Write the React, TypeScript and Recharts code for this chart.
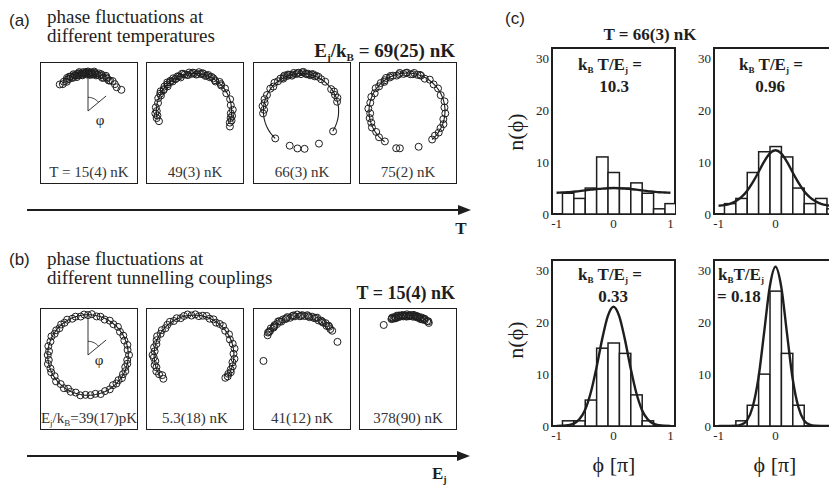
import React from 'react';
import {
  ScatterChart,
  Scatter,
  XAxis,
  YAxis,
  ReferenceLine,
  ComposedChart,
  Bar,
  Line,
  ReferenceArea,
} from 'recharts';

const SERIF = '"Liberation Serif", "Times New Roman", serif';
const SANS = '"Liberation Sans", Arial, sans-serif';
const INK = '#1e1e1e';

// ---- (a) single-shot phases at fixed E_j, as [phase / π, radius] ----
const ringT15: [number, number][] = [
  [-0.26, 1.02], [-0.24, 0.97], [-0.22, 1.0], [-0.2, 0.95], [-0.18, 1.03], [-0.17, 0.98], [-0.15, 1.01],
  [-0.14, 0.96], [-0.12, 1.04], [-0.11, 0.99], [-0.1, 0.94], [-0.09, 1.02], [-0.08, 0.97], [-0.07, 1.05],
  [-0.06, 1.0], [-0.05, 0.95], [-0.04, 1.03], [-0.03, 0.98], [-0.02, 1.01], [-0.01, 0.96], [0, 1.04],
  [0.01, 0.99], [0.02, 0.95], [0.03, 1.02], [0.04, 0.97], [0.05, 1.05], [0.06, 1.0], [0.07, 0.96],
  [0.09, 1.03], [0.1, 0.98], [0.12, 1.01], [0.13, 0.95], [0.15, 1.04], [0.17, 0.99], [0.19, 0.97],
  [0.22, 1.02], [0.25, 1.0], [0.28, 0.98], [0.32, 1.04],
  [-0.19, 0.99], [-0.16, 1.03], [-0.13, 0.97], [-0.115, 1.01], [-0.095, 0.98], [-0.075, 1.02],
  [-0.055, 0.97], [-0.035, 1.0], [-0.015, 1.03], [0.005, 0.97], [0.015, 1.01], [0.035, 0.98],
  [0.055, 1.02], [0.08, 0.99], [0.11, 1.03], [0.14, 0.97], [0.16, 1.01], [0.2, 0.99],
];
const ringT49: [number, number][] = [
  [-0.59, 0.96], [-0.56, 1.0], [-0.54, 0.97], [-0.52, 1.02], [-0.5, 0.98], [-0.47, 1.01], [-0.43, 0.97],
  [-0.39, 1.0], [-0.36, 0.96], [-0.33, 1.02], [-0.3, 0.98], [-0.28, 1.01], [-0.26, 0.95], [-0.24, 1.03],
  [-0.22, 0.99], [-0.2, 0.96], [-0.18, 1.02], [-0.16, 0.98], [-0.14, 1.01], [-0.12, 0.95], [-0.1, 1.03],
  [-0.08, 0.99], [-0.06, 0.97], [-0.04, 1.02], [-0.02, 0.98], [0, 1.0], [0.02, 0.96], [0.04, 1.03],
  [0.06, 0.99], [0.08, 1.01], [0.1, 0.97], [0.12, 1.02], [0.14, 0.98], [0.17, 1.0], [0.2, 0.96],
  [0.23, 1.02], [0.26, 0.98], [0.3, 1.01], [0.34, 0.97], [0.4, 1.0], [0.45, 0.98], [0.49, 1.02],
  [0.52, 0.97], [0.54, 1.01], [0.56, 0.98], [0.58, 1.02], [0.6, 0.99], [0.63, 1.03],
  [-0.35, 1.0], [-0.31, 0.97], [-0.25, 0.99], [-0.21, 1.01], [-0.17, 0.97], [-0.13, 0.99],
  [-0.09, 1.02], [-0.05, 0.96], [-0.01, 1.01], [0.03, 0.98], [0.07, 1.02], [0.11, 0.99],
  [0.15, 1.01], [0.19, 0.98], [0.25, 1.0],
];
const ringT66: [number, number][] = [
  [-0.97, 0.99], [-0.9, 0.96], [-0.76, 0.99], [-0.52, 1.0], [-0.49, 0.97], [-0.46, 1.02], [-0.43, 0.98],
  [-0.4, 1.01], [-0.36, 0.99], [-0.3, 1.0], [-0.27, 0.97], [-0.24, 1.02], [-0.21, 0.99], [-0.18, 1.01],
  [-0.16, 0.97], [-0.14, 1.03], [-0.12, 0.99], [-0.1, 1.0], [-0.08, 0.96], [-0.06, 1.02], [-0.04, 0.98],
  [-0.02, 1.01], [0, 0.97], [0.02, 1.03], [0.04, 0.99], [0.06, 1.0], [0.08, 0.97], [0.1, 1.02],
  [0.12, 0.98], [0.15, 1.01], [0.18, 0.99], [0.22, 1.0], [0.3, 0.98], [0.33, 1.01], [0.36, 0.99],
  [0.39, 1.02], [0.42, 0.98], [0.68, 1.0], [0.84, 0.98], [0.97, 1.0],
  [-0.15, 1.0], [-0.11, 1.02], [-0.07, 0.98], [-0.03, 1.0], [0.01, 1.02], [0.05, 0.98], [0.09, 1.0],
  [0.13, 1.01],
];
const ringT75: [number, number][] = [
  [-0.94, 1.0], [-0.91, 1.02], [-0.8, 0.99], [-0.74, 1.01], [-0.69, 0.98], [-0.64, 1.02], [-0.6, 0.99],
  [-0.56, 1.0], [-0.52, 0.97], [-0.48, 1.02], [-0.43, 0.99], [-0.38, 1.01], [-0.34, 0.97], [-0.3, 1.02],
  [-0.27, 0.98], [-0.24, 1.01], [-0.21, 0.97], [-0.18, 1.03], [-0.15, 0.99], [-0.12, 1.0], [-0.09, 0.97],
  [-0.06, 1.02], [-0.03, 0.98], [0, 1.01], [0.03, 0.97], [0.06, 1.02], [0.09, 0.99], [0.12, 1.0],
  [0.16, 0.97], [0.2, 1.02], [0.25, 0.99], [0.3, 1.01], [0.36, 0.98], [0.42, 1.02], [0.47, 0.99],
  [0.52, 1.01], [0.57, 0.98], [0.61, 1.02], [0.65, 0.99], [0.69, 1.01], [0.73, 0.98], [0.77, 1.0],
  [0.9, 0.99],
  [-0.2, 1.0], [-0.14, 1.02], [-0.07, 0.99], [-0.01, 1.0], [0.05, 0.98], [0.11, 1.01],
];

// ---- (b) single-shot phases at T = 15(4) nK ----
const ringE039: [number, number][] = [
  [-0.98, 1.05], [-0.94, 1.08], [-0.9, 1.04], [-0.86, 1.07], [-0.83, 1.03], [-0.8, 1.08], [-0.76, 1.05],
  [-0.72, 1.09], [-0.68, 1.04], [-0.64, 1.07], [-0.61, 1.05], [-0.57, 1.08], [-0.54, 1.04], [-0.5, 1.06],
  [-0.47, 1.03], [-0.43, 1.07], [-0.39, 1.05], [-0.35, 1.08], [-0.32, 1.04], [-0.29, 1.06], [-0.26, 1.03],
  [-0.23, 1.07], [-0.2, 1.05], [-0.17, 1.08], [-0.13, 1.04], [-0.1, 1.06], [-0.06, 1.03], [-0.03, 1.07],
  [0, 1.05], [0.03, 1.08], [0.07, 1.04], [0.1, 1.06], [0.14, 1.03], [0.18, 1.07], [0.22, 1.05],
  [0.26, 1.08], [0.3, 1.04], [0.34, 1.06], [0.38, 1.03], [0.42, 1.07], [0.46, 1.05], [0.5, 1.08],
  [0.54, 1.04], [0.57, 1.06], [0.6, 1.03], [0.63, 1.07], [0.66, 1.05], [0.69, 1.08], [0.72, 1.04],
  [0.75, 1.06], [0.78, 1.03], [0.82, 1.07], [0.86, 1.05], [0.9, 1.08], [0.94, 1.04], [0.98, 1.06],
];
const ringE5: [number, number][] = [
  [-0.71, 1.02], [-0.68, 0.99], [-0.66, 1.05], [-0.63, 1.08], [-0.6, 1.04], [-0.58, 1.07], [-0.55, 1.03],
  [-0.52, 1.06], [-0.5, 1.09], [-0.47, 1.04], [-0.44, 1.07], [-0.41, 1.03], [-0.38, 1.06], [-0.35, 1.09],
  [-0.32, 1.04], [-0.29, 1.07], [-0.26, 1.03], [-0.23, 1.06], [-0.2, 1.08], [-0.17, 1.04], [-0.14, 1.07],
  [-0.11, 1.03], [-0.08, 1.06], [-0.05, 1.08], [-0.02, 1.04], [0.01, 1.07], [0.04, 1.03], [0.07, 1.06],
  [0.1, 1.08], [0.13, 1.04], [0.16, 1.07], [0.19, 1.03], [0.22, 1.06], [0.25, 1.08], [0.29, 1.04],
  [0.33, 1.07], [0.37, 1.03], [0.41, 1.06], [0.45, 1.08], [0.49, 1.04], [0.53, 1.07], [0.56, 1.03],
  [0.59, 1.06], [0.62, 1.04], [0.64, 1.07], [0.66, 1.03], [0.68, 1.05], [0.7, 1.02],
];
const ringE41: [number, number][] = [
  [-0.55, 1.0], [-0.33, 1.02], [-0.31, 1.05], [-0.29, 1.03], [-0.27, 1.06], [-0.25, 1.02], [-0.23, 1.05],
  [-0.21, 1.03], [-0.19, 1.07], [-0.17, 1.02], [-0.15, 1.05], [-0.13, 1.03], [-0.11, 1.06], [-0.09, 1.02],
  [-0.07, 1.05], [-0.05, 1.03], [-0.03, 1.07], [-0.01, 1.02], [0.01, 1.05], [0.03, 1.03], [0.05, 1.06],
  [0.07, 1.02], [0.09, 1.05], [0.11, 1.03], [0.13, 1.07], [0.15, 1.02], [0.17, 1.05], [0.19, 1.03],
  [0.21, 1.06], [0.23, 1.02], [0.25, 1.05], [0.27, 1.03], [0.29, 1.04], [0.39, 1.02],
  [-0.3, 1.04], [-0.24, 1.03], [-0.18, 1.05], [-0.12, 1.04], [-0.06, 1.06], [0, 1.03], [0.06, 1.04],
  [0.12, 1.05], [0.18, 1.04], [0.24, 1.06],
];
const ringE378: [number, number][] = [
  [-0.21, 1.0], [-0.13, 1.03], [-0.12, 1.06], [-0.11, 1.02], [-0.1, 1.05], [-0.09, 1.03], [-0.08, 1.07],
  [-0.07, 1.02], [-0.06, 1.05], [-0.05, 1.03], [-0.04, 1.06], [-0.03, 1.02], [-0.02, 1.05], [-0.01, 1.03],
  [0, 1.07], [0.01, 1.02], [0.02, 1.05], [0.03, 1.03], [0.04, 1.06], [0.05, 1.02], [0.06, 1.05],
  [0.07, 1.03], [0.08, 1.06], [0.09, 1.02], [0.1, 1.05], [0.11, 1.03], [0.12, 1.06], [0.13, 1.02],
  [0.14, 1.05], [0.15, 1.03], [0.17, 1.04], [0.19, 1.02],
  [-0.125, 1.04], [-0.095, 1.01], [-0.065, 1.06], [-0.035, 1.04], [-0.005, 1.01], [0.025, 1.04],
  [0.055, 1.07], [0.085, 1.04], [0.115, 1.01], [0.145, 1.06], [0.18, 1.05],
];

// ---- (c) phase histograms at T = 66(3) nK ----
const phiBins = [-0.8, -0.6, -0.4, -0.2, 0, 0.2, 0.4, 0.6, 0.8, 1.0];
const counts103 = [4, 3, 5, 11, 8, 5, 6, 4, 1, 2];
const counts096 = [2, 3, 8, 12, 13, 11, 5, 2, 3, 1];
const counts033 = [1, 1, 5, 15, 16, 14, 6, 1, 0, 0];
const counts018 = [0, 1, 4, 10, 26, 14, 4, 0, 0, 0];

const fitPhi = [-1, -0.9, -0.8, -0.7, -0.6, -0.5, -0.4, -0.3, -0.2, -0.1, 0, 0.1, 0.2, 0.3, 0.4, 0.5, 0.6, 0.7, 0.8, 0.9, 1];
const fit103 = [4.1, 4.15, 4.2, 4.3, 4.4, 4.55, 4.7, 4.8, 4.9, 4.97, 5.0, 4.97, 4.9, 4.8, 4.7, 4.55, 4.4, 4.3, 4.2, 4.15, 4.1];
const fit096 = [1.6, 1.7, 1.95, 2.45, 3.25, 4.45, 6.1, 8.05, 10.1, 11.7, 12.3, 11.7, 10.1, 8.05, 6.1, 4.45, 3.25, 2.45, 1.95, 1.7, 1.6];
const fit033 = [0.01, 0.04, 0.14, 0.45, 1.3, 3.1, 6.4, 11.2, 16.7, 21.2, 23.0, 21.2, 16.7, 11.2, 6.4, 3.1, 1.3, 0.45, 0.14, 0.04, 0.01];
const fit018 = [0, 0, 0.01, 0.05, 0.26, 1.1, 3.7, 9.2, 18.0, 26.9, 30.7, 26.9, 18.0, 9.2, 3.7, 1.1, 0.26, 0.05, 0.01, 0, 0];

// ---- layout ----
const BOX_LEFT = [40, 146, 253, 359];
const BOX_W = 98;
const BOX_H = 122;
const PX = 38; // pixels per unit ring radius
const RING_X0 = 48; // ring centre, px from box left

const arcPoints = (from: number, to: number, r: number) => {
  const n = Math.max(2, Math.round(Math.abs(to - from) / 0.02));
  return Array.from({ length: n + 1 }, (_, i) => {
    const p = from + ((to - from) * i) / n;
    return { x: r * Math.sin(Math.PI * p), y: r * Math.cos(Math.PI * p) };
  });
};

const blank = () => <g />;
const ringDot = (props: any) => (
  <circle cx={props.cx} cy={props.cy} r={3.5} fill="none" stroke={INK} strokeWidth={1} />
);

interface RingPanelProps {
  left: number;
  top: number;
  centerOffset: number;
  ring: [number, number][];
  arc: [number, number, number] | null;
  angle?: boolean;
}

function RingPanel({ left, top, centerOffset, ring, arc, angle }: RingPanelProps) {
  const yMax = centerOffset / PX;
  const yMin = -(BOX_H - centerOffset) / PX;
  const xMin = -RING_X0 / PX;
  const xMax = (BOX_W - RING_X0) / PX;
  const pts = ring.map(([p, r]) => ({ x: r * Math.sin(Math.PI * p), y: r * Math.cos(Math.PI * p) }));
  const tilt = 0.28;
  return (
    <div style={{ position: 'absolute', left, top, width: BOX_W, height: BOX_H }}>
      <ScatterChart width={BOX_W} height={BOX_H} margin={{ top: 0, right: 0, bottom: 0, left: 0 }}>
        <XAxis type="number" dataKey="x" domain={[xMin, xMax]} hide allowDataOverflow />
        <YAxis type="number" dataKey="y" domain={[yMin, yMax]} hide allowDataOverflow />
        {arc && (
          <Scatter
            data={arcPoints(arc[0], arc[1], arc[2])}
            line={{ stroke: INK, strokeWidth: 1.1 }}
            lineType="joint"
            shape={blank}
            isAnimationActive={false}
          />
        )}
        {angle && (
          <ReferenceLine segment={[{ x: 0, y: 0 }, { x: 0, y: 1.08 }]} stroke={INK} strokeWidth={0.9} />
        )}
        {angle && (
          <ReferenceLine
            segment={[
              { x: 0, y: 0 },
              { x: 0.62 * Math.sin(Math.PI * tilt), y: 0.62 * Math.cos(Math.PI * tilt) },
            ]}
            stroke={INK}
            strokeWidth={0.9}
          />
        )}
        {angle && (
          <Scatter
            data={arcPoints(0, tilt, 0.36)}
            line={{ stroke: INK, strokeWidth: 0.9 }}
            lineType="joint"
            shape={blank}
            isAnimationActive={false}
          />
        )}
        <Scatter data={pts} shape={ringDot} isAnimationActive={false} />
      </ScatterChart>
      <div
        style={{
          position: 'absolute',
          inset: 0,
          border: `1.2px solid ${INK}`,
          pointerEvents: 'none',
        }}
      />
    </div>
  );
}

const HIST_DOMAIN: [number, number] = [-1.08, 1.08];
const BIN_PX = 11.4; // 0.2 in phase at 57 px per unit
const tickStyle = { fill: INK, fontSize: 13, fontFamily: SERIF };

// histogram bar centred on its bin value, one bin wide
const binBar = (props: any) => {
  const { x, y, width, height } = props;
  if (!height || height <= 0) return <g />;
  const cx = x + width / 2;
  return (
    <rect x={cx - BIN_PX / 2} y={y} width={BIN_PX} height={height} fill="#fff" stroke={INK} strokeWidth={1.5} />
  );
};

interface HistogramProps {
  left: number;
  top: number;
  counts: number[];
  fit: number[];
  ticks: number[];
}

function Histogram({ left, top, counts, fit, ticks }: HistogramProps) {
  const rows = fitPhi.map((p, i) => {
    const k = phiBins.findIndex((b) => Math.abs(b - p) < 1e-6);
    return { phi: p, fit: fit[i], count: k >= 0 ? counts[k] : null };
  });
  return (
    <div style={{ position: 'absolute', left, top }}>
      <ComposedChart width={148} height={191} data={rows} margin={{ top: 5, right: 5, bottom: 0, left: 0 }}>
        <XAxis
          type="number"
          dataKey="phi"
          domain={HIST_DOMAIN}
          ticks={ticks}
          allowDataOverflow
          axisLine={false}
          tickLine={false}
          tickSize={0}
          tickMargin={5}
          height={20}
          tick={tickStyle}
        />
        <YAxis
          type="number"
          domain={[0, 32]}
          ticks={[0, 10, 20, 30]}
          allowDataOverflow
          axisLine={false}
          tickLine={false}
          tickSize={0}
          tickMargin={3}
          width={20}
          tick={tickStyle}
        />
        <Bar dataKey="count" shape={binBar} isAnimationActive={false} />
        <Line dataKey="fit" type="monotone" stroke={INK} strokeWidth={2.4} dot={false} isAnimationActive={false} />
        <ReferenceArea
          x1={HIST_DOMAIN[0]}
          x2={HIST_DOMAIN[1]}
          y1={0}
          y2={32}
          fill="none"
          fillOpacity={0}
          stroke={INK}
          strokeWidth={2}
          ifOverflow="visible"
        />
      </ComposedChart>
    </div>
  );
}

// text runs; a one-element array marks a subscript
type Run = string | [string];

function Rich({ runs, sub = 10, shift = 4 }: { runs: Run[]; sub?: number; shift?: number }) {
  return (
    <>
      {runs.map((r, i) => {
        const isSub = Array.isArray(r);
        const prevSub = i > 0 && Array.isArray(runs[i - 1]);
        let dy = 0;
        if (isSub && !prevSub) dy = shift;
        if (!isSub && prevSub) dy = -shift;
        return (
          <tspan key={i} dy={dy || undefined} fontSize={isSub ? sub : undefined}>
            {isSub ? r[0] : r}
          </tspan>
        );
      })}
    </>
  );
}

function Arrow({ y, x1, x2 }: { y: number; x1: number; x2: number }) {
  return (
    <g>
      <line x1={x1} y1={y} x2={x2 - 10} y2={y} stroke={INK} strokeWidth={2} />
      <polygon points={`${x2},${y} ${x2 - 13},${y - 5} ${x2 - 13},${y + 5}`} fill={INK} />
    </g>
  );
}

const tempLabels = ['T = 15(4) nK', '49(3) nK', '66(3) nK', '75(2) nK'];
const couplingLabels = ['', '5.3(18) nK', '41(12) nK', '378(90) nK'];
const ratioRuns: Run[] = ['k', ['B'], ' T/E', ['j'], ' ='];

export default function App() {
  const topRow = [
    { ring: ringT15, arc: null, angle: true },
    { ring: ringT49, arc: [-0.57, 0.6, 0.99] as [number, number, number] },
    { ring: ringT66, arc: [-0.76, 0.68, 0.99] as [number, number, number] },
    { ring: ringT75, arc: [-0.8, 0.77, 1.0] as [number, number, number] },
  ];
  const bottomRow = [
    { ring: ringE039, arc: [-1, 1, 1.06] as [number, number, number], angle: true },
    { ring: ringE5, arc: [-0.68, 0.68, 1.05] as [number, number, number] },
    { ring: ringE41, arc: null },
    { ring: ringE378, arc: null },
  ];

  const bold = { fontFamily: SERIF, fontWeight: 'bold' as const, fill: INK };

  return (
    <div
      style={{
        position: 'absolute',
        left: 0,
        top: 0,
        width: 829,
        height: 486,
        overflow: 'hidden',
        background: '#fff',
      }}
    >
      {topRow.map((p, i) => (
        <RingPanel key={`a${i}`} left={BOX_LEFT[i]} top={62} centerOffset={49} ring={p.ring} arc={p.arc} angle={p.angle} />
      ))}
      {bottomRow.map((p, i) => (
        <RingPanel key={`b${i}`} left={BOX_LEFT[i]} top={308} centerOffset={47} ring={p.ring} arc={p.arc} angle={p.angle} />
      ))}

      <Histogram left={532} top={43} counts={counts103} fit={fit103} ticks={[-1, 0, 1]} />
      <Histogram left={694} top={43} counts={counts096} fit={fit096} ticks={[-1, 0]} />
      <Histogram left={532} top={255} counts={counts033} fit={fit033} ticks={[-1, 0, 1]} />
      <Histogram left={694} top={255} counts={counts018} fit={fit018} ticks={[-1, 0]} />

      <svg width={829} height={486} style={{ position: 'absolute', left: 0, top: 0, pointerEvents: 'none' }}>
        {/* panel (a) */}
        <text x={9} y={26} fontFamily={SANS} fontSize={17} fill={INK}>(a)</text>
        <text x={47} y={23} fontFamily={SERIF} fontSize={19} fill={INK}>phase fluctuations at</text>
        <text x={47} y={42} fontFamily={SERIF} fontSize={19} fill={INK}>different temperatures</text>
        <text x={455} y={57} textAnchor="end" fontSize={19} {...bold}>
          <Rich runs={['E', ['j'], '/k', ['B'], ' = 69(25) nK']} sub={11} shift={4} />
        </text>
        {tempLabels.map((t, i) => (
          <text key={t} x={BOX_LEFT[i] + BOX_W / 2} y={177} textAnchor="middle" fontFamily={SERIF} fontSize={15} fill="#333">
            {t}
          </text>
        ))}
        <text x={100} y={125} textAnchor="middle" fontFamily={SERIF} fontSize={15} fill={INK}>φ</text>
        <Arrow y={210} x1={27} x2={471} />
        <text x={461} y={234} textAnchor="middle" fontSize={17} {...bold}>T</text>

        {/* panel (b) */}
        <text x={9} y={265} fontFamily={SANS} fontSize={17} fill={INK}>(b)</text>
        <text x={47} y={265} fontFamily={SERIF} fontSize={19} fill={INK}>phase fluctuations at</text>
        <text x={47} y={284} fontFamily={SERIF} fontSize={19} fill={INK}>different tunnelling couplings</text>
        <text x={455} y={299} textAnchor="end" fontSize={18} {...bold}>T = 15(4) nK</text>
        <text x={BOX_LEFT[0] + BOX_W / 2} y={423} textAnchor="middle" fontFamily={SERIF} fontSize={15} fill="#333">
          <Rich runs={['E', ['j'], '/k', ['B'], '=39(17)pK']} sub={9} shift={3} />
        </text>
        {couplingLabels.map((t, i) =>
          t ? (
            <text key={t} x={BOX_LEFT[i] + BOX_W / 2} y={423} textAnchor="middle" fontFamily={SERIF} fontSize={15} fill="#333">
              {t}
            </text>
          ) : null
        )}
        <text x={99} y={365} textAnchor="middle" fontFamily={SERIF} fontSize={15} fill={INK}>φ</text>
        <Arrow y={456} x1={27} x2={470} />
        <text x={432} y={479} fontSize={17} {...bold}>
          <Rich runs={['E', ['j']]} sub={10} shift={4} />
        </text>

        {/* panel (c) */}
        <text x={505} y={24} fontFamily={SANS} fontSize={17} fill={INK}>(c)</text>
        <text x={650} y={40} textAnchor="middle" fontSize={17} {...bold}>T = 66(3) nK</text>

        <text x={610} y={70} textAnchor="middle" fontSize={17} {...bold}>
          <Rich runs={ratioRuns} sub={9} shift={3} />
        </text>
        <text x={614} y={92} textAnchor="middle" fontSize={17} {...bold}>10.3</text>

        <text x={771} y={70} textAnchor="middle" fontSize={17} {...bold}>
          <Rich runs={ratioRuns} sub={9} shift={3} />
        </text>
        <text x={770} y={92} textAnchor="middle" fontSize={17} {...bold}>0.96</text>

        <text x={610} y={280} textAnchor="middle" fontSize={17} {...bold}>
          <Rich runs={ratioRuns} sub={9} shift={3} />
        </text>
        <text x={613} y={302} textAnchor="middle" fontSize={17} {...bold}>0.33</text>

        <text x={718} y={280} fontSize={17} {...bold}>
          <Rich runs={['k', ['B'], 'T/E', ['j']]} sub={9} shift={3} />
        </text>
        <text x={717} y={302} fontSize={17} {...bold}>= 0.18</text>

        <text x={523} y={132} textAnchor="middle" transform="rotate(-90 523 132)" fontFamily={SERIF} fontSize={22} fill={INK}>
          n(ϕ)
        </text>
        <text x={523} y={340} textAnchor="middle" transform="rotate(-90 523 340)" fontFamily={SERIF} fontSize={22} fill={INK}>
          n(ϕ)
        </text>
        <text x={614} y={472} textAnchor="middle" fontFamily={SERIF} fontSize={22} fill={INK}>ϕ [π]</text>
        <text x={775} y={472} textAnchor="middle" fontFamily={SERIF} fontSize={22} fill={INK}>ϕ [π]</text>
      </svg>
    </div>
  );
}
